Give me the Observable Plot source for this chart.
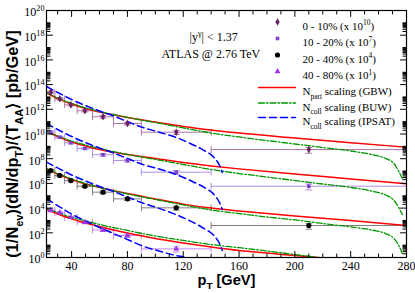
<!DOCTYPE html>
<html><head><meta charset="utf-8">
<script src="https://cdn.jsdelivr.net/npm/d3@7"></script>
<script src="https://cdn.jsdelivr.net/npm/@observablehq/plot@0.6"></script>
<style>
html,body{margin:0;padding:0;background:#fff;}
#chart{width:415px;height:293px;overflow:hidden;}
</style></head><body><div id="chart"></div>
<script>
// ---- pT bins (GeV) ----
const binLo = [22, 28, 35, 44, 55, 70, 90, 140];
const binHi = [28, 35, 44, 55, 70, 90, 140, 280];
const binPt = [25, 31.5, 39.5, 49.5, 62.5, 80, 115, 210];

// ---- ATLAS data (scaled) ----
const data0_10  = [2.4e13, 7.1e12, 2.3e12, 7.6e11, 2.5e11, 7.1e10, 1.4e10, 5.5e8];
const data10_20 = [1.4e10, 5.5e9, 1.95e9, 6.8e8, 2.1e8, 7.1e7, 8.1e6, 5.9e5];
const data20_40 = [1.1e7, 4.4e6, 1.7e6, 5.9e5, 1.95e5, 5.6e4, 1.05e4, 3.9e2];
const data40_80 = [6.5e3, 4.2e3, 1.8e3, 7.2e2, 1.7e2, 60, 5.0];
// relative errors
const err0_10  = [0.25, 0.2, 0.2, 0.2, 0.25, 0.25, 0.35, 0.5];
const err10_20 = [0.25, 0.2, 0.2, 0.2, 0.25, 0.25, 0.35, 0.5];
const err20_40 = [0.25, 0.2, 0.2, 0.2, 0.25, 0.25, 0.35, 0.5];
const err40_80 = [0.25, 0.2, 0.2, 0.25, 0.25, 0.3, 0.45];

// ---- N_part scaling (GBW) ----
const gbwPt     = [22, 30, 40, 50, 60, 80, 100, 120, 140, 160, 200, 240, 280];
const gbw0_10   = [2.1e13, 7.4e12, 2.7e12, 1.15e12, 6.0e11, 2.2e11, 9.3e10, 4.1e10, 2.1e10, 1.2e10, 4.8e9, 2.0e9, 8.5e8];
const gbw10_20  = [1.6e10, 6.3e9, 2.2e9, 1.07e9, 5.5e8, 2.2e8, 1.05e8, 4.9e7, 2.6e7, 1.5e7, 5.75e6, 2.3e6, 9.3e5];
const gbw20_40  = [1.5e7, 5.75e6, 2.1e6, 8.9e5, 4.7e5, 1.5e5, 5.5e4, 2.1e4, 1.0e4, 5.9e3, 2.3e3, 1.0e3, 3.9e2];
const gbwPt40   = [22, 30, 40, 50, 60, 80, 100, 120, 140, 160, 180, 200, 220, 240, 280];
const gbw40_80  = [8.7e3, 3.3e3, 1.35e3, 6.2e2, 3.2e2, 95, 35, 15, 7.1, 3.7, 2.3, 1.45, 0.91, 0.58, 0.22];

// ---- N_coll scaling (BUW) ----
const buwPt     = [22, 30, 40, 50, 60, 80, 100, 120, 140, 160, 180, 200, 220, 240, 255, 265, 271, 274.5, 277];
const buw0_10   = [2.3e13, 8.1e12, 3.0e12, 1.3e12, 6.6e11, 2.2e11, 8.5e10, 3.1e10, 1.2e10, 5.75e9, 2.95e9, 1.55e9, 8.1e8, 4.2e8, 2.2e8, 1.05e8, 4.1e7, 9.1e6, 2.5e6];
const buw10_20  = [1.7e10, 6.9e9, 2.7e9, 1.3e9, 6.8e8, 2.2e8, 8.7e7, 3.4e7, 1.35e7, 6.3e6, 3.3e6, 1.7e6, 8.9e5, 4.7e5, 2.4e5, 1.15e5, 4.2e4, 1.1e4, 3.0e3];
const buw20_40  = [1.6e7, 6.3e6, 2.3e6, 9.8e5, 4.7e5, 1.4e5, 5.0e4, 1.8e4, 7.1e3, 3.6e3, 1.9e3, 1.1e3, 5.6e2, 3.0e2, 1.7e2, 87, 35, 9.3, 2.1];
const buwPt40   = [22, 30, 40, 50, 60, 80, 100, 120, 140, 160, 180, 200, 220, 240, 260];
const buw40_80  = [1.0e4, 4.4e3, 1.8e3, 9.1e2, 4.7e2, 1.55e2, 55, 24, 11.2, 6.2, 3.4, 1.74, 0.91, 0.48, 0.22];

// ---- N_coll scaling (IPSAT) ----
const ipsatPt    = [22, 30, 40, 50, 60, 70, 80, 90, 100, 113, 125, 135, 142, 146, 148];
const ipsat0_10  = [7.1e13, 2.3e13, 6.2e12, 2.0e12, 7.2e11, 2.9e11, 1.0e11, 3.7e10, 1.7e10, 6.3e9, 1.7e9, 4.6e8, 1.26e8, 2.8e7, 7.6e6];
const ipsat10_20 = [7.1e10, 2.3e10, 6.3e9, 2.0e9, 7.4e8, 2.9e8, 1.05e8, 3.7e7, 1.8e7, 6.3e6, 1.7e6, 4.7e5, 1.26e5, 2.8e4, 7.8e3];
const ipsat20_40 = [5.25e7, 1.8e7, 4.8e6, 1.55e6, 5.6e5, 2.2e5, 7.9e4, 2.8e4, 1.2e4, 3.6e3, 9.1e2, 2.2e2, 60, 13.5, 3.7];
const ipsatPt40  = [22, 30, 40, 50, 60, 70, 80, 90, 100, 113, 125, 135, 142];
const ipsat40_80 = [5.6e4, 1.6e4, 3.3e3, 9.1e2, 2.7e2, 87, 29, 9.3, 4.1, 1.6, 0.83, 0.27, 0.074];

// ---- labels & ticks ----
const seriesLabels = ["0 - 10% (x 10^{10})", "10 - 20% (x 10^{7})", "20 - 40% (x 10^{4})", "40 - 80% (x 10^{1})"];
const modelLabels = ["N_{part} scaling (GBW)", "N_{coll} scaling (BUW)", "N_{coll} scaling (IPSAT)"];
const xTitle = "p_{T} [GeV]";
const yTitle = "(1/N_{ev})(dN/dp_{T})/\u27E8T_{AA}\u27E9 [pb/GeV]";
const notes = ["|y^{\u03B3}| < 1.37", "ATLAS @ 2.76 TeV"];
const xMajor = [40, 80, 120, 160, 200, 240, 280];
const xMinor = [30, 50, 60, 70, 90, 100, 110, 130, 140, 150, 170, 180, 190, 210, 220, 230, 250, 260, 270];
const yMajorExp = [0, 2, 4, 6, 8, 10, 12, 14, 16, 18, 20];
const minorMult = [2, 3, 4, 5, 6, 7, 8, 9, 10];

const yMajor = yMajorExp.map(e => Math.pow(10, e));
const yMinor = [];
for (const e of yMajorExp.slice(0, -1)) for (const k of minorMult) yMinor.push(k * Math.pow(10, e));

const styles = [
  {color: "#6e1f63", bar: "#ad78a8", symbol: "diamond", r: 2.3},
  {color: "#7d3fc8", bar: "#ad90e2", symbol: "square", r: 2.0},
  {color: "#000000", bar: "#808080", symbol: "circle", r: 2.6},
  {color: "#9b32e8", bar: "#c28af0", symbol: "triangle", r: 2.2}
];
const modelStyles = [
  {stroke: "#ff0000", dash: null, w: 1.5},
  {stroke: "#009600", dash: "6,2,1.5,2", w: 1.3},
  {stroke: "#0000ff", dash: "7,4", w: 1.5}
];

const seriesData = [data0_10, data10_20, data20_40, data40_80];
const seriesErr = [err0_10, err10_20, err20_40, err40_80];
const models = [
  [[gbwPt, gbw0_10], [gbwPt, gbw10_20], [gbwPt, gbw20_40], [gbwPt40, gbw40_80]],
  [[buwPt, buw0_10], [buwPt, buw10_20], [buwPt, buw20_40], [buwPt40, buw40_80]],
  [[ipsatPt, ipsat0_10], [ipsatPt, ipsat10_20], [ipsatPt, ipsat20_40], [ipsatPt40, ipsat40_80]]
];

const lineShape = {draw(context, l) { context.moveTo(0, 0); context.lineTo(0, -l); }};

const marks = [];
// error bars
seriesData.forEach((vals, s) => {
  const rows = vals.map((v, i) => ({pt: binPt[i], lo: binLo[i], hi: binHi[i], v, el: v * (1 - seriesErr[s][i]), eh: v * (1 + seriesErr[s][i])}));
  const c = styles[s].bar;
  marks.push(Plot.ruleY(rows, {y: "v", x1: "lo", x2: "hi", stroke: c, strokeWidth: 1}));
  marks.push(Plot.vector(rows, {x: "lo", y: "v", length: 6, rotate: 0, anchor: "middle", shape: lineShape, stroke: c, strokeWidth: 1}));
  marks.push(Plot.vector(rows, {x: "hi", y: "v", length: 6, rotate: 0, anchor: "middle", shape: lineShape, stroke: c, strokeWidth: 1, clip: true}));
  marks.push(Plot.ruleX(rows, {x: "pt", y1: "el", y2: "eh", stroke: c, strokeWidth: 1}));
  marks.push(Plot.vector(rows, {x: "pt", y: "el", length: 6, rotate: 90, anchor: "middle", shape: lineShape, stroke: c, strokeWidth: 1}));
  marks.push(Plot.vector(rows, {x: "pt", y: "eh", length: 6, rotate: 90, anchor: "middle", shape: lineShape, stroke: c, strokeWidth: 1}));
});
// model curves
models.forEach((m, k) => {
  m.forEach(([pts, vals]) => {
    const rows = pts.map((p, i) => ({x: p, y: vals[i]}));
    marks.push(Plot.line(rows, {x: "x", y: "y", stroke: modelStyles[k].stroke, strokeWidth: modelStyles[k].w,
      strokeDasharray: modelStyles[k].dash, curve: "monotone-x", clip: true}));
  });
});
// markers
seriesData.forEach((vals, s) => {
  const rows = vals.map((v, i) => ({pt: binPt[i], v}));
  marks.push(Plot.dot(rows, {x: "pt", y: "v", symbol: styles[s].symbol, r: styles[s].r, fill: styles[s].color, stroke: null}));
});
// frame + ticks (inward on all sides)
marks.push(Plot.frame({stroke: "black", strokeWidth: 1.2}));
const tk = (data, opt) => Plot.vector(data, {...opt, anchor: "start", shape: lineShape, stroke: "black", strokeWidth: 1});
marks.push(tk(xMajor, {x: d => d, frameAnchor: "bottom", rotate: 0, length: 6}));
marks.push(tk(xMinor, {x: d => d, frameAnchor: "bottom", rotate: 0, length: 3.5}));
marks.push(tk(xMajor, {x: d => d, frameAnchor: "top", rotate: 180, length: 6}));
marks.push(tk(xMinor, {x: d => d, frameAnchor: "top", rotate: 180, length: 3.5}));
marks.push(tk(yMajor, {y: d => d, frameAnchor: "left", rotate: 90, length: 6}));
marks.push(tk(yMinor, {y: d => d, frameAnchor: "left", rotate: 90, length: 3.5}));
marks.push(tk(yMajor, {y: d => d, frameAnchor: "right", rotate: 270, length: 6}));
marks.push(tk(yMinor, {y: d => d, frameAnchor: "right", rotate: 270, length: 3.5}));
// tick labels
marks.push(Plot.axisX({ticks: xMajor, tickSize: 0, tickPadding: 4, tickFormat: d => String(d), label: null, fontSize: 12}));
marks.push(Plot.axisY({ticks: yMajor, tickSize: 0, tickPadding: 2, tickFormat: d => "10^{" + Math.round(Math.log10(d)) + "}", label: null, fontSize: 12, dy: 2}));
// axis titles
marks.push(Plot.text([xTitle], {text: d => d, frameAnchor: "bottom", dy: 27, fontFamily: "Liberation Sans", fontWeight: "bold", fontSize: 13}));
marks.push(Plot.text([yTitle], {text: d => d, frameAnchor: "left", dx: -34, dy: 10, rotate: -90, fontFamily: "Liberation Sans", fontWeight: "bold", fontSize: 13}));
// annotations
marks.push(Plot.text([notes[0]], {text: d => d, frameAnchor: "top-left", dx: 143, dy: 22, textAnchor: "start", fontSize: 12}));
marks.push(Plot.text([notes[1]], {text: d => d, frameAnchor: "top-left", dx: 115, dy: 39, textAnchor: "start", fontSize: 12}));
// legend
const rowY = [11.5, 28, 44.5, 61, 77, 92.5, 107];
seriesLabels.forEach((lab, s) => {
  marks.push(Plot.dot([lab], {frameAnchor: "top-left", dx: 231, dy: rowY[s], symbol: styles[s].symbol, r: styles[s].r, fill: styles[s].color, stroke: null}));
  marks.push(Plot.text([lab], {text: d => d, frameAnchor: "top-left", dx: 256, dy: rowY[s], textAnchor: "start", fontSize: 11}));
});
modelLabels.forEach((lab, k) => {
  marks.push(Plot.vector([lab], {frameAnchor: "top-left", dx: 212, dy: rowY[4 + k], rotate: 90, length: 37, anchor: "start", shape: lineShape,
    stroke: modelStyles[k].stroke, strokeWidth: modelStyles[k].w, strokeDasharray: modelStyles[k].dash}));
  marks.push(Plot.text([lab], {text: d => d, frameAnchor: "top-left", dx: 256, dy: rowY[4 + k], textAnchor: "start", fontSize: 11}));
});

const chart = Plot.plot({
  width: 415, height: 293,
  marginLeft: 46, marginRight: 9, marginTop: 10, marginBottom: 36,
  style: {fontFamily: "Liberation Serif", fontSize: "12px", background: "white", color: "black"},
  x: {domain: [22, 280]},
  y: {type: "log", domain: [1, 1e20]},
  marks
});
document.getElementById("chart").appendChild(chart);

// turn ^{..} and _{..} into super/subscripts
function build(t, s, fs) {
  const parts = [];
  const re = /([\^_])\{([^}]*)\}/g;
  let last = 0, m;
  while ((m = re.exec(s))) {
    if (m.index > last) parts.push({k: "n", s: s.slice(last, m.index)});
    parts.push({k: m[1] === "^" ? "sup" : "sub", s: m[2]});
    last = re.lastIndex;
  }
  if (last < s.length) parts.push({k: "n", s: s.slice(last)});
  while (t.firstChild) t.removeChild(t.firstChild);
  let shift = 0;
  for (const p of parts) {
    const ts = document.createElementNS("http://www.w3.org/2000/svg", "tspan");
    const target = p.k === "sup" ? -0.42 * fs : p.k === "sub" ? 0.3 * fs : 0;
    if (target - shift) ts.setAttribute("dy", (target - shift).toFixed(2));
    shift = target;
    if (p.k !== "n") ts.setAttribute("font-size", (0.68 * fs).toFixed(2));
    ts.textContent = p.s;
    t.appendChild(ts);
  }
}
const texts = [...chart.querySelectorAll("text")];
texts.forEach(t => {
  const s = t.textContent;
  t.setAttribute("data-src", s);
  if (/[\^_]\{/.test(s)) build(t, s, parseFloat(getComputedStyle(t).fontSize) || 12);
});
// fit titles to the lengths they have in the reference, centred on their anchor
function fit(src, target) {
  const t = texts.find(e => e.getAttribute("data-src") === src);
  if (!t) return;
  t.setAttribute("text-anchor", "start");
  const x0 = parseFloat(t.getAttribute("x")) || 0;
  t.setAttribute("x", x0);
  const fs = parseFloat(getComputedStyle(t).fontSize) || 12;
  const w0 = t.getBBox().width;
  if (!w0) return;
  const nfs = fs * target / w0;
  t.setAttribute("font-size", nfs.toFixed(2));
  build(t, src, nfs);
  const w = t.getBBox().width;
  t.setAttribute("x", (x0 - w / 2).toFixed(2));
}
fit(yTitle, 228);
fit(xTitle, 58);
</script></body></html>
